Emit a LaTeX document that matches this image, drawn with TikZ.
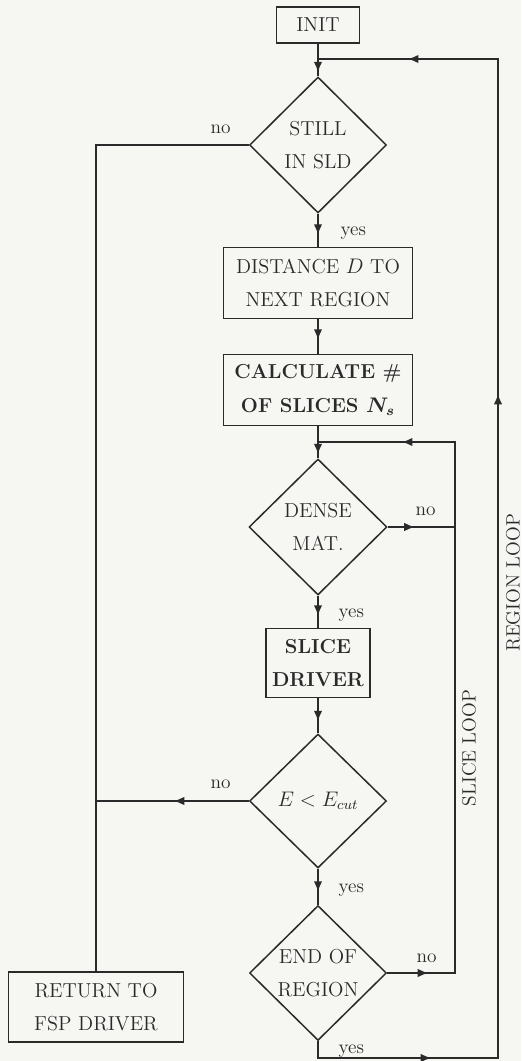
\documentclass[tikz,border=0pt]{standalone}
\usepackage{amsmath,amssymb,xcolor}
\definecolor{fcink}{RGB}{42,42,42}
\definecolor{fcpaper}{RGB}{246,246,243}
\usetikzlibrary{arrows.meta,positioning,shapes.geometric,calc,decorations.markings}

\begin{document}
\begin{tikzpicture}[x=0.02cm, y=-0.02cm, line width=0.85pt, color=fcink,
  every node/.style={font=\fontsize{11.5}{19}\selectfont},
  bx/.style={draw, rectangle, align=center, inner sep=0pt},
  bbx/.style={bx, font=\fontsize{11.5}{19}\selectfont\bfseries\boldmath},
  dm/.style={draw, diamond, align=center, inner sep=0pt, minimum width=2.74cm, minimum height=2.72cm},
  lbl/.style={anchor=base west, font=\fontsize{11}{13}\selectfont},
  looplbl/.style={rotate=90, font=\fontsize{11}{13}\selectfont},
  arr/.style={postaction={decorate, decoration={markings, mark=at position #1 with {\arrow{Latex[length=2.1mm, width=1.7mm]}}}}}]
\fill[fcpaper] (0,0) rectangle (521,1061);
\useasboundingbox (0,0) rectangle (521,1061);

\node[bx, minimum width=1.66cm, minimum height=0.72cm] (init) at (318,25) {INIT};
\node[dm] (still) at (318,145) {STILL\\IN SLD};
\node[bx, minimum width=3.78cm, minimum height=1.42cm] (dist) at (318,283) {DISTANCE $D$ TO\\NEXT REGION};
\node[bbx, minimum width=3.78cm, minimum height=1.42cm] (calc) at (318,390) {CALCULATE \#\\OF SLICES $N_s$};
\node[dm, minimum width=2.76cm] (dense) at (318,527) {DENSE\\MAT.};
\node[bbx, minimum width=2.08cm, minimum height=1.38cm] (slice) at (318,663) {SLICE\\DRIVER};
\node[dm, minimum height=2.68cm] (ecut) at (318,801) {$E < E_{cut}$};
\node[dm, minimum height=2.7cm] (endr) at (318,973) {END OF\\REGION};
\node[bx, minimum width=3.5cm, minimum height=1.4cm] (ret) at (96,1007) {RETURN TO\\FSP DRIVER};

\coordinate (rtop) at (318,59);
\coordinate (rcor) at (498,59);
\coordinate (rbot) at (318,1058);
\coordinate (stop) at (318,442);
\coordinate (scor) at (455,442);

\draw[arr=-0.08cm] (init.south) -- (still.north);
\draw[arr=-0.24cm] (still.south) -- (dist.north);
\draw[arr=-0.28cm] (dist.south) -- (calc.north);
\draw[arr=-0.08cm] (calc.south) -- (dense.north);
\draw[arr=-0.24cm] (dense.south) -- (slice.north);
\draw[arr=-0.24cm] (slice.south) -- (ecut.north);
\draw[arr=-0.26cm] (ecut.south) -- (endr.north);
\draw (still.west) -| (ret.north);
\draw[arr=1.5cm] (ecut.west) -- (ecut.west -| ret.north);
\draw[arr=0.54cm] (dense.east) -- (dense.east -| scor);
\draw[arr=0.82cm, arr=-1.68cm] (endr.east) -| (scor) -- (stop);
\draw[arr=2.6cm, arr=17.22cm, arr=-1.8cm] (endr.south) -- (rbot) -| (rcor) -- (rtop);

\node[lbl] (no1) at (204,133) {no};
\node[lbl] (yes1) at (334,235) {yes};
\node[lbl] (no2) at (409,515) {no};
\node[lbl] (yes2) at (332,617) {yes};
\node[lbl] (no3) at (204,788) {no};
\node[lbl] (yes3) at (332,892) {yes};
\node[lbl] (no4) at (410,962) {no};
\node[lbl] (yes4) at (332,1053) {yes};
\node[looplbl] (slp) at (469,748) {SLICE LOOP};
\node[looplbl] (rlp) at (513,583) {REGION LOOP};
\end{tikzpicture}
\end{document}
